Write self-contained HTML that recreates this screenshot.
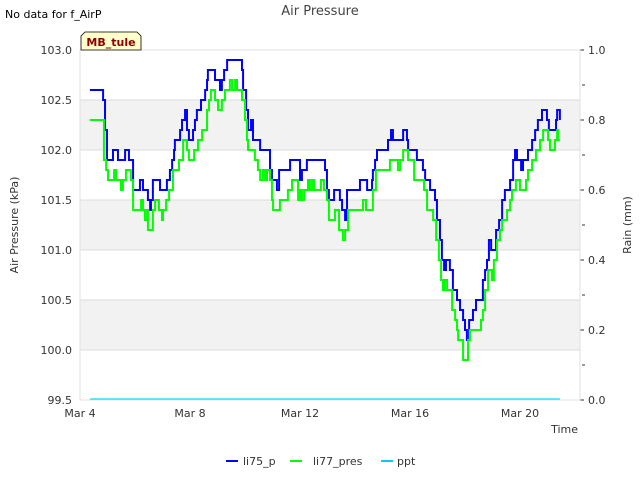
<!DOCTYPE html>
<html><head><meta charset="utf-8"><style>
body{margin:0;background:#fff;font-family:"Liberation Sans","DejaVu Sans",sans-serif}
svg text{font-family:"DejaVu Sans","Liberation Sans",sans-serif}
</style></head><body>
<svg id="c" width="640" height="480" xmlns="http://www.w3.org/2000/svg">
<rect x="0" y="0" width="640" height="480" fill="#fff"/>
<g id="bands"></g>
<g id="grid"></g>
<g id="axes"></g>
<g id="series"></g>
<text x="5" y="18" font-size="11" fill="#000">No data for f_AirP</text>
<text x="320" y="15" font-size="13" fill="#444" text-anchor="middle">Air Pressure</text>
<path d="M81,50 L81,36 L85,32 L137,32 L141,36 L141,50 Z" fill="#ffffcc" stroke="#000" stroke-width="0.8"/>
<text x="111" y="46" font-size="11" font-weight="bold" fill="#8b0000" text-anchor="middle">MB_tule</text>
<text transform="translate(18,225) rotate(-90)" font-size="11" fill="#333" text-anchor="middle">Air Pressure (kPa)</text>
<text transform="translate(631,225) rotate(-90)" font-size="11" fill="#333" text-anchor="middle">Rain (mm)</text>
<text x="578" y="433" font-size="11" fill="#333" text-anchor="end">Time</text>
<g>
<line x1="226" y1="461" x2="238" y2="461" stroke="#0000ff" stroke-width="2"/>
<text x="243" y="465" font-size="11" fill="#333">li75_p</text>
<line x1="290" y1="461" x2="302" y2="461" stroke="#00ff00" stroke-width="2"/>
<text x="313" y="465" font-size="11" fill="#333">li77_pres</text>
<line x1="381" y1="461" x2="393" y2="461" stroke="#00ccff" stroke-width="2"/>
<text x="397" y="465" font-size="11" fill="#333">ppt</text>
</g>
</svg>
<script>
const xTickLabels=["Mar 4","Mar 8","Mar 12","Mar 16","Mar 20"];
const xTickDays=[0,4,8,12,16];
const yTicks=[99.5,100.0,100.5,101.0,101.5,102.0,102.5,103.0];
const y2Ticks=[0.0,0.2,0.4,0.6,0.8,1.0];
const li75Days=[0.36,0.80,0.84,0.91,0.98,1.20,1.38,1.64,1.78,1.93,2.18,2.29,2.47,2.55,2.58,2.65,2.91,3.16,3.27,3.35,3.42,3.45,3.56,3.64,3.71,3.82,3.89,3.96,4.11,4.18,4.25,4.40,4.55,4.62,4.65,4.91,5.09,5.16,5.24,5.35,5.89,5.93,6.04,6.11,6.22,6.29,6.55,6.91,6.98,7.16,7.24,7.64,8.00,8.07,8.25,8.91,8.98,9.05,9.24,9.45,9.53,9.64,9.71,10.18,10.44,10.62,10.65,10.73,10.80,11.20,11.31,11.38,11.75,11.89,11.93,12.25,12.47,12.55,12.73,12.91,12.98,13.09,13.16,13.24,13.31,13.45,13.56,13.71,13.82,13.93,14.00,14.07,14.15,14.29,14.40,14.65,14.73,14.80,14.87,14.95,15.13,15.24,15.35,15.45,15.64,15.75,15.82,15.89,16.04,16.11,16.29,16.44,16.55,16.65,16.80,16.98,17.05,17.31,17.35,17.45];
const li75Vals=[102.6,102.6,102.5,102.2,101.9,102.0,101.9,102.0,101.9,101.6,101.7,101.6,101.5,101.4,101.5,101.7,101.6,101.7,101.8,101.9,102.0,102.1,102.1,102.2,102.3,102.4,102.2,102.1,102.2,102.3,102.4,102.5,102.6,102.7,102.8,102.7,102.6,102.7,102.8,102.9,102.8,102.6,102.4,102.2,102.3,102.1,102.0,101.8,101.7,101.6,101.8,101.9,101.7,101.8,101.9,101.8,101.6,101.5,101.6,101.5,101.4,101.3,101.6,101.7,101.6,101.7,101.8,101.9,102.0,102.1,102.2,102.1,102.2,102.1,102.0,101.9,101.8,101.7,101.6,101.5,101.3,101.1,100.9,100.8,100.9,100.8,100.6,100.5,100.4,100.3,100.2,100.1,100.3,100.4,100.5,100.7,100.8,100.9,101.1,101.0,101.2,101.3,101.5,101.6,101.7,101.9,102.0,101.9,101.8,101.9,102.0,102.1,102.2,102.3,102.4,102.3,102.2,102.3,102.4,102.3];
const li77Days=[0.36,0.80,0.87,0.95,1.02,1.24,1.31,1.49,1.56,1.67,1.85,1.93,2.22,2.29,2.36,2.44,2.47,2.65,2.73,2.87,2.98,3.02,3.13,3.24,3.38,3.60,3.75,3.89,3.96,4.15,4.29,4.44,4.62,4.69,4.76,4.91,5.02,5.16,5.27,5.45,5.53,5.64,5.71,5.89,6.00,6.07,6.11,6.36,6.47,6.55,6.65,6.73,6.80,6.91,6.98,7.02,7.27,7.56,7.71,7.93,8.00,8.07,8.15,8.29,8.36,8.44,8.51,8.76,8.87,8.98,9.05,9.27,9.42,9.56,9.64,9.75,10.29,10.40,10.65,10.76,11.27,11.56,11.64,11.75,11.93,12.15,12.51,12.62,12.84,12.95,13.05,13.13,13.20,13.27,13.35,13.53,13.64,13.71,13.75,13.93,14.11,14.18,14.58,14.65,14.73,14.84,14.98,15.05,15.16,15.27,15.35,15.53,15.64,15.71,15.85,16.00,16.22,16.29,16.44,16.58,16.73,16.84,17.02,17.09,17.27,17.35,17.38,17.45];
const li77Vals=[102.3,102.3,101.9,101.8,101.7,101.8,101.7,101.6,101.7,101.8,101.7,101.4,101.5,101.4,101.3,101.4,101.2,101.4,101.5,101.4,101.3,101.4,101.5,101.6,101.8,101.9,102.1,102.0,101.9,102.0,102.1,102.2,102.4,102.5,102.6,102.5,102.4,102.5,102.6,102.7,102.6,102.7,102.6,102.5,102.3,102.1,102.0,101.9,101.8,101.7,101.8,101.7,101.8,101.7,101.5,101.4,101.5,101.6,101.7,101.5,101.6,101.5,101.6,101.7,101.6,101.7,101.6,101.7,101.6,101.5,101.3,101.4,101.2,101.1,101.2,101.4,101.5,101.4,101.6,101.8,101.9,101.8,101.9,102.0,101.9,101.7,101.6,101.4,101.3,101.1,100.9,100.7,100.6,100.7,100.6,100.4,100.3,100.2,100.1,99.9,100.1,100.2,100.3,100.4,100.6,100.8,100.7,100.9,101.1,101.2,101.3,101.4,101.5,101.6,101.7,101.6,101.7,101.8,101.9,102.0,102.1,102.2,102.1,102.0,102.1,102.2,102.1,102.1];
const pptDays=[0.36,17.45];
const pptVals=[0,0];

const L=80,R=580,T=50,B=400;
const xS=d=>L+d*27.5;
const yS=v=>B-(v-99.5)*100;
const y2S=v=>B-1-v*349;
const NS="http://www.w3.org/2000/svg";
function mk(tag,attrs,parent){const e=document.createElementNS(NS,tag);for(const k in attrs)e.setAttribute(k,attrs[k]);parent.appendChild(e);return e;}
const bands=document.getElementById('bands'),grid=document.getElementById('grid'),series=document.getElementById('series'),axes=document.getElementById('axes');
[[100.0,100.5],[101.0,101.5],[102.0,102.5]].forEach(b=>{
 const r=mk('rect',{x:L,y:yS(b[1]),width:R-L,height:yS(b[0])-yS(b[1]),fill:'#f2f2f2'},bands);
 
 
});
yTicks.forEach(v=>{
 const g=mk('line',{x1:L,x2:R,y1:yS(v),y2:yS(v),stroke:'#dcdcdc','stroke-width':1},grid);
 
 
 const t=mk('text',{x:L-8,y:yS(v)+4,'font-size':11,fill:'#333','text-anchor':'end'},axes);
 
 
 t.textContent=v.toFixed(1);
});
y2Ticks.forEach(v=>{
 const t=mk('text',{x:R+8,y:B-v*350+4,'font-size':11,fill:'#333'},axes);
 
 
 t.textContent=v.toFixed(1);
 const tk=mk('line',{x1:R,x2:R+4,y1:B-v*350,y2:B-v*350,stroke:'#333'},axes);
 
 
});
for(let v=0.1;v<1;v+=0.2){
 const tk=mk('line',{x1:R+2,x2:R+5,y1:B-v*350,y2:B-v*350,stroke:'#333'},axes);
 
 
}
xTickDays.forEach((d,i)=>{
 const t=mk('text',{x:xS(d),y:417,'font-size':11,fill:'#333','text-anchor':'middle'},axes);
 
 
 t.textContent=xTickLabels[i];
});
const fr=mk('rect',{x:L,y:T,width:R-L,height:B-T,fill:'none',stroke:'#e0e0e0'},axes);


function stepPath(ds,vs,ys){let p='M'+xS(ds[0])+','+ys(vs[0]);for(let i=1;i<ds.length;i++){p+=' H'+xS(ds[i])+' V'+ys(vs[i]);}return p;}
const p1=mk('path',{d:stepPath(li75Days,li75Vals,yS),fill:'none',stroke:'#0000ff','stroke-width':2},series);


const p2=mk('path',{d:stepPath(li77Days,li77Vals,yS),fill:'none',stroke:'#00ff00','stroke-width':2},series);


const p3=mk('path',{d:stepPath(pptDays,pptVals,y2S),fill:'none',stroke:'#00e5ff','stroke-width':1.2},series);


</script>
</body></html>
